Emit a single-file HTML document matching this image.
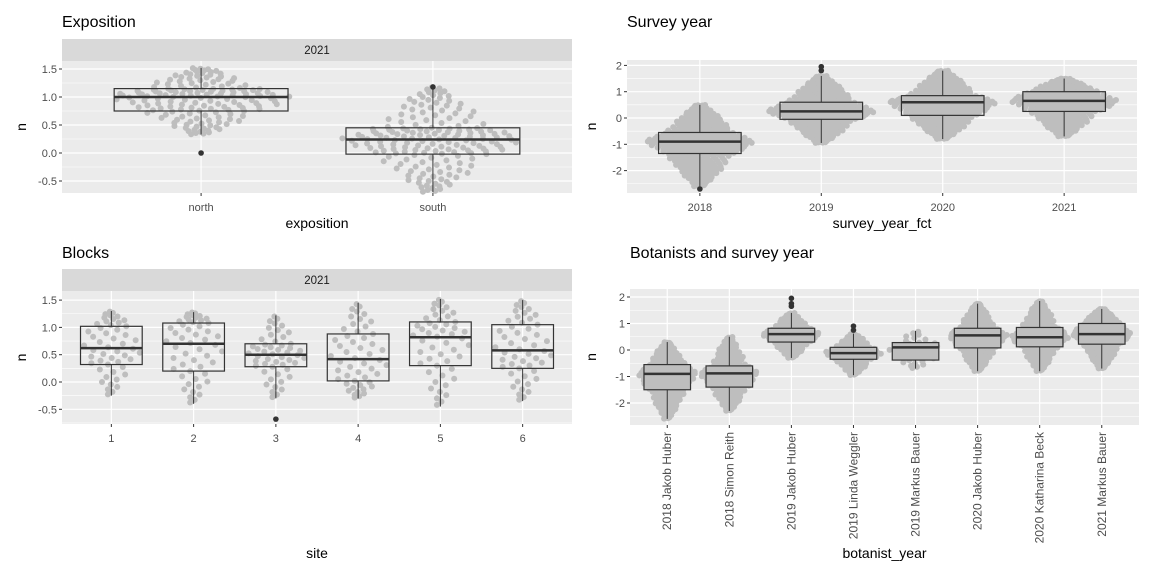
<!DOCTYPE html>
<html><head><meta charset="utf-8"><style>
body{margin:0;background:#fff;}
svg{display:block;font-family:"Liberation Sans",Arial,sans-serif;}
</style></head><body>
<svg id="s" width="1152" height="576" viewBox="0 0 1152 576" xmlns="http://www.w3.org/2000/svg"></svg>
<script>
// ---------- data ----------
const expoCats = ["north","south"];
const expoLo = [0.33,-0.70], expoQ1=[0.75,-0.02], expoMed=[1.00,0.24], expoQ3=[1.15,0.45], expoHi=[1.52,1.18];
const expoOut = [[0.0],[1.18]];
const expoN = [150,170];

const yearCats = ["2018","2019","2020","2021"];
const yearLo=[-2.6,-0.95,-0.8,-0.7], yearQ1=[-1.35,-0.05,0.1,0.25], yearMed=[-0.9,0.25,0.6,0.65], yearQ3=[-0.55,0.6,0.85,1.0], yearHi=[0.5,1.6,1.8,1.5];
const yearOut=[[-2.7],[1.8,1.95],[],[]];
const yearN=[420,420,420,380];

const siteCats=["1","2","3","4","5","6"];
const siteLo=[-0.25,-0.4,-0.3,-0.3,-0.45,-0.35], siteQ1=[0.32,0.2,0.28,0.02,0.3,0.25], siteMed=[0.62,0.7,0.5,0.42,0.82,0.58], siteQ3=[1.02,1.08,0.7,0.88,1.1,1.05], siteHi=[1.3,1.28,1.22,1.45,1.52,1.5];
const siteOut=[[],[],[-0.68],[],[],[]];
const siteN=[50,50,50,50,50,50];

const botCats=["2018 Jakob Huber","2018 Simon Reith","2019 Jakob Huber","2019 Linda Weggler","2019 Markus Bauer","2020 Jakob Huber","2020 Katharina Beck","2021 Markus Bauer"];
const botLo=[-2.6,-2.3,-0.3,-0.95,-0.7,-0.8,-0.8,-0.7], botQ1=[-1.5,-1.4,0.3,-0.35,-0.38,0.08,0.12,0.22], botMed=[-0.9,-0.88,0.6,-0.12,0.1,0.55,0.48,0.6], botQ3=[-0.55,-0.6,0.82,0.1,0.28,0.82,0.85,1.0], botHi=[0.3,0.5,1.4,0.62,0.72,1.75,1.85,1.55];
const botOut=[[],[],[1.65,1.75,1.95],[0.75,0.9],[],[],[],[]];
const botN=[260,200,200,160,30,280,230,380];

const expoTicks=[-0.5,0.0,0.5,1.0,1.5], yearTicks=[-2,-1,0,1,2], siteTicks=[-0.5,0.0,0.5,1.0,1.5], botTicks=[-2,-1,0,1,2];

// ---------- drawing ----------
const S=document.getElementById('s'), NS="http://www.w3.org/2000/svg";
function mk(tag,attrs,parent,text){const e=document.createElementNS(NS,tag);for(const k in attrs)e.setAttribute(k,attrs[k]);if(text!==undefined)e.textContent=text;(parent||S).appendChild(e);return e;}

function panel(c){
  const g=mk('g',{});
  
  
  const xs=i=>c.x0+(i+0.6)*(c.x1-c.x0)/(c.cats.length+0.2);
  const step=(c.x1-c.x0)/(c.cats.length+0.2);
  const ys=v=>c.zero-v*c.ppu;
  const t=mk('text',{x:c.x0,y:c.titleY,'font-size':16,fill:'#000'},g,c.title);
  
  
  if(c.strip){const st=mk('rect',{x:c.x0,y:c.y0-22,width:c.x1-c.x0,height:22,fill:'#d9d9d9'},g);
    
    
    mk('text',{x:(c.x0+c.x1)/2,y:c.y0-7,'font-size':11.5,fill:'#1a1a1a','text-anchor':'middle'},g,'2021');}
  mk('rect',{x:c.x0,y:c.y0,width:c.x1-c.x0,height:c.y1-c.y0,fill:'#ebebeb'},g);
  const d=c.ticks[1]-c.ticks[0];
  for(let k=-1;k<c.ticks.length;k++){const v=c.ticks[0]+(k+0.5)*d;const y=ys(v);if(y>c.y0&&y<c.y1)mk('line',{x1:c.x0,x2:c.x1,y1:y,y2:y,stroke:'#fff','stroke-width':0.6},g);}
  c.ticks.forEach(v=>{const y=ys(v);mk('line',{x1:c.x0,x2:c.x1,y1:y,y2:y,stroke:'#fff','stroke-width':1.2},g);
    mk('line',{x1:c.x0-3,x2:c.x0,y1:y,y2:y,stroke:'#333','stroke-width':1},g);
    const lb=mk('text',{x:c.x0-5,y:y+4,'font-size':11,fill:'#4d4d4d','text-anchor':'end'},g,c.fmt(v));
    
    });
  c.cats.forEach((cat,i)=>{const x=xs(i);mk('line',{x1:x,x2:x,y1:c.y0,y2:c.y1,stroke:'#fff','stroke-width':1.2},g);
    mk('line',{x1:x,x2:x,y1:c.y1,y2:c.y1+3,stroke:'#333','stroke-width':1},g);
    let lb;
    if(c.rot){lb=mk('text',{x:0,y:0,'font-size':12,fill:'#4d4d4d','text-anchor':'end',transform:`translate(${x+4},${c.y1+7}) rotate(-90)`},g,cat);}
    else lb=mk('text',{x:x,y:c.y1+18,'font-size':11,fill:'#4d4d4d','text-anchor':'middle'},g,cat);
    
    });
  // swarm points
  c.cats.forEach((cat,i)=>{
    const P=[[0,c.lo[i]],[0.25,c.q1[i]],[0.5,c.med[i]],[0.75,c.q3[i]],[1,c.hi[i]]];
    const n=c.n[i], cx=xs(i);
    for(let j=0;j<n;j++){
      const p=(j+0.5)/n; let s=0; while(s<3&&p>P[s+1][0])s++;
      const f=(p-P[s][0])/(P[s+1][0]-P[s][0]); const v=P[s][1]+f*(P[s+1][1]-P[s][1]);
      let w=Math.pow(Math.max(0.04,1-Math.abs(2*p-1)),0.7);
      const u=((j*0.6180339)%1)-0.5;
      const pt=mk('circle',{cx:cx+u*2*c.sw*w,cy:ys(v),r:3,fill:'#bebebe'},g);
      
      
    }
  });
  // boxes
  c.cats.forEach((cat,i)=>{const cx=xs(i),bw=step*c.bw;
    mk('line',{x1:cx,x2:cx,y1:ys(c.hi[i]),y2:ys(c.q3[i]),stroke:'#333','stroke-width':1},g);
    mk('line',{x1:cx,x2:cx,y1:ys(c.q1[i]),y2:ys(c.lo[i]),stroke:'#333','stroke-width':1},g);
    const b=mk('rect',{x:cx-bw/2,y:ys(c.q3[i]),width:bw,height:ys(c.q1[i])-ys(c.q3[i]),fill:c.fill,stroke:'#333','stroke-width':1.2},g);
    
    
    mk('line',{x1:cx-bw/2,x2:cx+bw/2,y1:ys(c.med[i]),y2:ys(c.med[i]),stroke:'#333','stroke-width':2.5},g);
    c.out[i].forEach(v=>{const o=mk('circle',{cx:cx,cy:ys(v),r:2.8,fill:'#333'},g);
      
      });
  });
  const xt=mk('text',{x:(c.x0+c.x1)/2,y:c.xtY,'font-size':14,fill:'#000','text-anchor':'middle'},g,c.xtitle);
  
  
  const yt=mk('text',{x:0,y:0,'font-size':14,fill:'#000','text-anchor':'middle',transform:`translate(${c.ytX},${(c.y0+c.y1)/2}) rotate(-90)`},g,'n');
  
  
}
const f1=v=>v.toFixed(1), f0=v=>String(v);
panel({name:'exposition-panel',title:'Exposition',titleY:27,strip:true,x0:62,x1:572,y0:61,y1:193,zero:153,ppu:56,ticks:expoTicks,fmt:f1,cats:expoCats,lo:expoLo,q1:expoQ1,med:expoMed,q3:expoQ3,hi:expoHi,out:expoOut,n:expoN,sw:95,bw:0.75,fill:'none',xtitle:'exposition',xtY:228,ytX:26});
panel({name:'survey-year-panel',title:'Survey year',titleY:27,strip:false,x0:627,x1:1137,y0:60,y1:193,zero:118,ppu:26.3,ticks:yearTicks,fmt:f0,cats:yearCats,lo:yearLo,q1:yearQ1,med:yearMed,q3:yearQ3,hi:yearHi,out:yearOut,n:yearN,sw:55,bw:0.68,fill:'none',xtitle:'survey_year_fct',xtY:228,ytX:596});
panel({name:'blocks-panel',title:'Blocks',titleY:258,strip:true,x0:62,x1:572,y0:291,y1:424,zero:382,ppu:54.6,ticks:siteTicks,fmt:f1,cats:siteCats,lo:siteLo,q1:siteQ1,med:siteMed,q3:siteQ3,hi:siteHi,out:siteOut,n:siteN,sw:33,bw:0.75,fill:'none',xtitle:'site',xtY:558,ytX:26});
panel({name:'botanists-panel',title:'Botanists and survey year',titleY:258,strip:false,x0:630,x1:1139,y0:289,y1:425,zero:350,ppu:26.5,ticks:botTicks,fmt:f0,cats:botCats,lo:botLo,q1:botQ1,med:botMed,q3:botQ3,hi:botHi,out:botOut,n:botN,sw:30,bw:0.75,fill:'#bebebe',xtitle:'botanist_year',xtY:558,ytX:596,rot:true});
</script>
</body></html>
